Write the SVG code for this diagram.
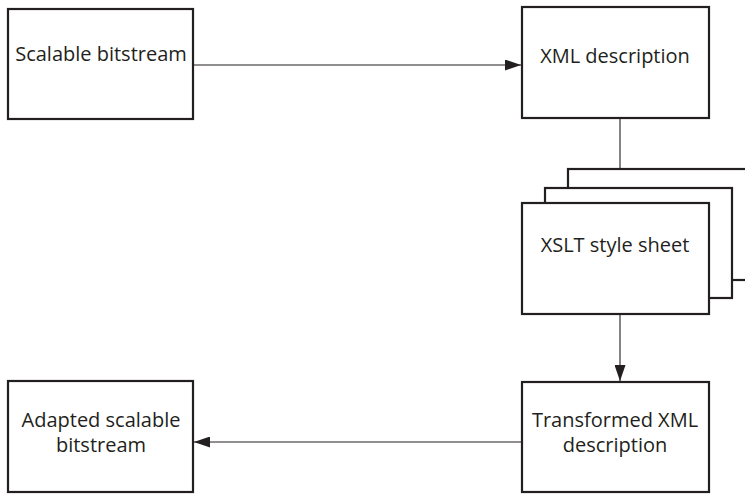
<svg xmlns="http://www.w3.org/2000/svg" width="745" height="494" viewBox="0 0 745 494">
<style>
.box{fill:#fff;stroke:#231f20;stroke-width:2.2}
.lbl{font-family:"Open Sans","Noto Sans",sans-serif;font-size:20px;fill:#231f20;text-anchor:middle}
.con{fill:none;stroke:#231f20;stroke-width:1.1}
</style>
<defs>
<marker id="ah" markerWidth="16" markerHeight="11" refX="16" refY="5.5" orient="auto" markerUnits="userSpaceOnUse">
<path d="M0,0 L16,5.5 L0,11 Z" fill="#231f20"/>
</marker>
</defs>
<g id="connectors">
<line class="con" x1="193" y1="65" x2="521" y2="65" marker-end="url(#ah)"/>
<line class="con" x1="620" y1="118" x2="620" y2="169"/>
<line class="con" x1="620" y1="314" x2="620" y2="381" marker-end="url(#ah)"/>
<line class="con" x1="522" y1="442" x2="194" y2="442" marker-end="url(#ah)"/>
</g>
<g id="scalable-bitstream">
<rect class="box" x="8" y="9" width="185" height="110"/>
<text class="lbl" x="101" y="61">Scalable bitstream</text>
</g>
<g id="xml-description">
<rect class="box" x="522" y="7" width="187" height="111"/>
<text class="lbl" x="615" y="63">XML description</text>
</g>
<g id="xslt-style-sheet">
<rect class="box" x="568" y="169" width="190" height="111"/>
<rect class="box" x="545" y="188" width="187" height="110"/>
<rect class="box" x="522" y="203" width="187" height="111"/>
<text class="lbl" x="615" y="252">XSLT style sheet</text>
</g>
<g id="transformed-xml">
<rect class="box" x="522" y="382" width="187" height="110"/>
<text class="lbl" x="615" y="427">Transformed XML</text>
<text class="lbl" x="615" y="452">description</text>
</g>
<g id="adapted-bitstream">
<rect class="box" x="8" y="381" width="185" height="111"/>
<text class="lbl" x="101" y="427">Adapted scalable</text>
<text class="lbl" x="101" y="452">bitstream</text>
</g>
</svg>
